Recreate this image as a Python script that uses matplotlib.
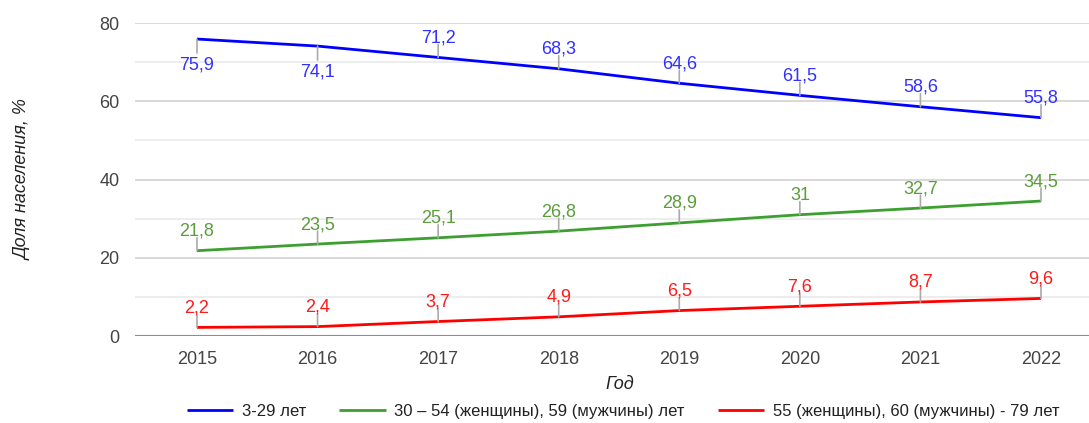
import matplotlib.pyplot as plt
from matplotlib.ticker import MultipleLocator

plt.rcParams['font.family'] = ['Liberation Sans', 'DejaVu Sans']

years = [2015, 2016, 2017, 2018, 2019, 2020, 2021, 2022]
young = [75.9, 74.1, 71.2, 68.3, 64.6, 61.5, 58.6, 55.8]
middle = [21.8, 23.5, 25.1, 26.8, 28.9, 31.0, 32.7, 34.5]
older = [2.2, 2.4, 3.7, 4.9, 6.5, 7.6, 8.7, 9.6]

names = ['3-29 лет',
         '30 – 54 (женщины), 59 (мужчины) лет',
         '55 (женщины), 60 (мужчины) - 79 лет']
line_colors = ['#0000ff', '#3c9f2f', '#ff0000']
label_colors = ['#3030ff', '#5a9e3a', '#ff1a1a']
# labels that google placed under the point instead of above
below = {(0, 2015), (0, 2016)}

fig = plt.figure(figsize=(10.89, 4.23), dpi=100)
ax = fig.add_axes([135 / 1089, 1 - 336 / 423, 954 / 1089, 313 / 423])

for i, (series, name) in enumerate(zip([young, middle, older], names)):
    ax.plot(years, series, color=line_colors[i], lw=2, label=name,
            solid_capstyle='butt', zorder=3)
    for x, y in zip(years, series):
        txt = f'{y:g}'.replace('.', ',')
        if (i, x) in below:
            ax.annotate('', xy=(x, y), xytext=(0, -14),
                        textcoords='offset pixels',
                        arrowprops=dict(arrowstyle='-', color='#aaaaaa',
                                        lw=1.2, shrinkA=0, shrinkB=0))
            ax.annotate(txt, xy=(x, y), xytext=(0, -17),
                        textcoords='offset pixels', ha='center', va='top',
                        color=label_colors[i], fontsize=13)
        else:
            ax.annotate('', xy=(x, y), xytext=(0, 13),
                        textcoords='offset pixels',
                        arrowprops=dict(arrowstyle='-', color='#aaaaaa',
                                        lw=1.2, shrinkA=0, shrinkB=0))
            ax.annotate(txt, xy=(x, y), xytext=(0, 15),
                        textcoords='offset pixels', ha='center',
                        va='baseline', color=label_colors[i], fontsize=13)

ax.set_xlim(2014.486, 2022.398)
ax.set_ylim(0, 80)
ax.set_xticks(years)
ax.set_yticks([0, 20, 40, 60, 80])
ax.yaxis.set_minor_locator(MultipleLocator(10))
ax.grid(axis='y', which='major', color='#d6d6d6', lw=1.3)
ax.grid(axis='y', which='minor', color='#ececec', lw=1.3)
ax.set_axisbelow(True)
for s in ax.spines.values():
    s.set_visible(False)
ax.axhline(0, color='#8c8c8c', lw=1.5, zorder=2)
ax.tick_params(axis='both', which='both', length=0, labelsize=13,
               labelcolor='#444444')
ax.tick_params(axis='y', pad=11)
ax.tick_params(axis='x', pad=11)

ax.set_ylabel('Доля населения, %', fontsize=13, style='italic',
              color='#222222')
ax.yaxis.set_label_coords(-103 / 954, 0.5)
ax.set_xlabel('Год', fontsize=13, style='italic', color='#222222')
ax.xaxis.set_label_coords(0.508, -40 / 313)

fig.legend(loc='center', bbox_to_anchor=(0.572, 1 - 411 / 423), ncol=3,
           frameon=False, fontsize=12, handlelength=2.8, handletextpad=0.5,
           columnspacing=2.0, labelcolor='#222222')

fig.savefig('out.png', dpi=100)
